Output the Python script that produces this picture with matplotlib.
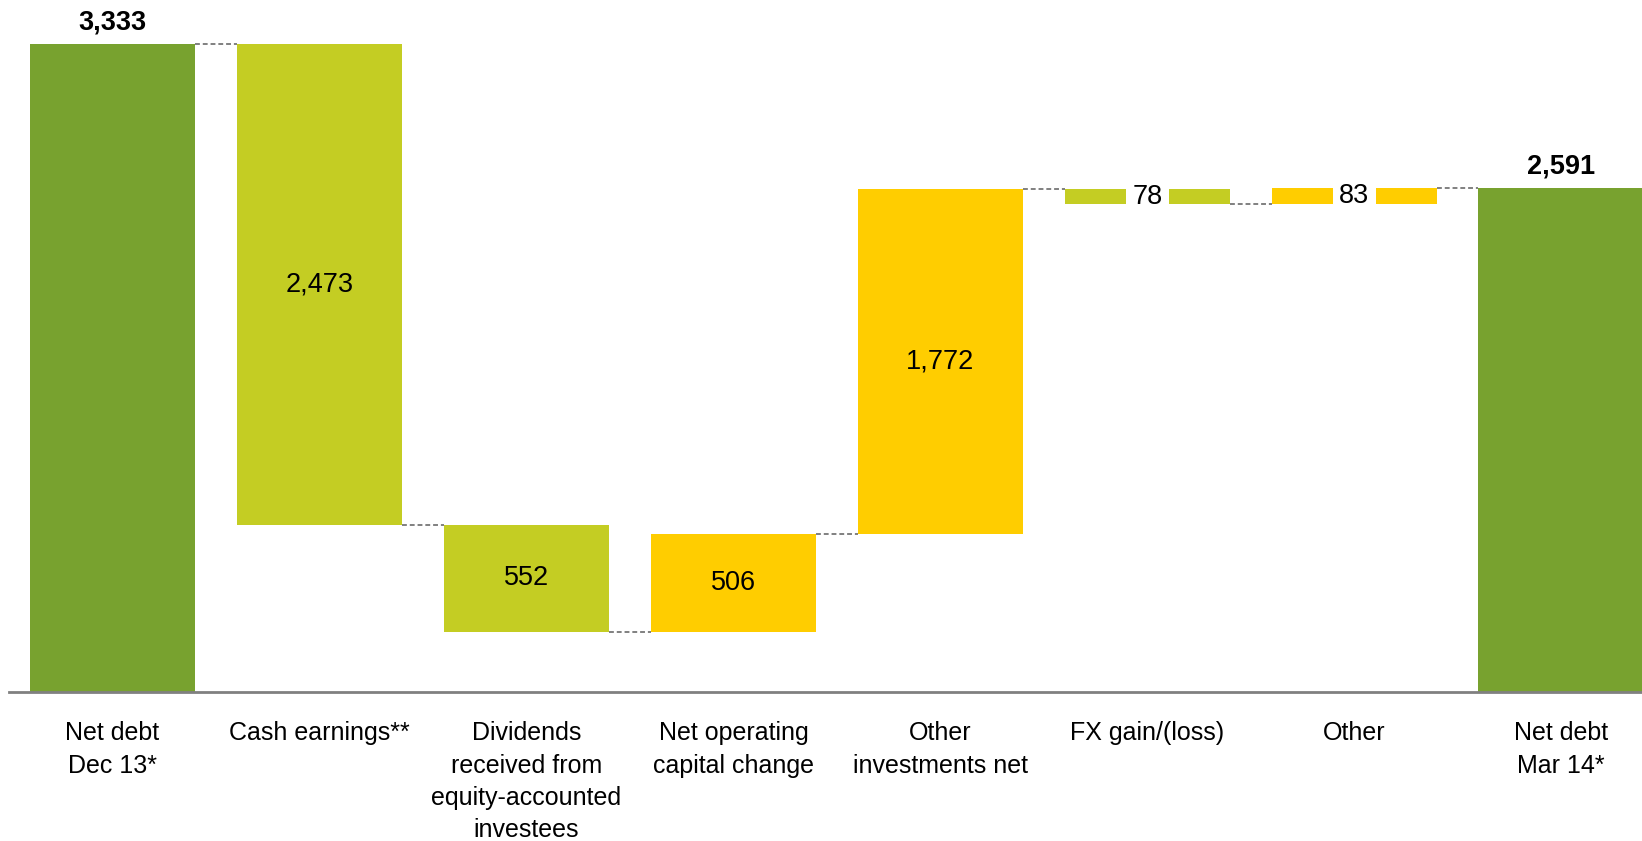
import matplotlib
matplotlib.use("Agg")
import matplotlib.pyplot as plt
import numpy as np

plt.rcParams['font.family'] = ['Liberation Sans', 'DejaVu Sans']

categories = ['Net debt\nDec 13*', 'Cash earnings**',
              'Dividends\nreceived from\nequity-accounted\ninvestees',
              'Net operating\ncapital change', 'Other\ninvestments net',
              'FX gain/(loss)', 'Other', 'Net debt\nMar 14*']
start_total = 3333
changes = [-2473, -552, 506, 1772, -78, 83]
end_total = 2591

col_total = '#78A22F'
col_down = '#C4CD23'
col_up = '#FFCD00'

fig = plt.figure(figsize=(16.42, 8.41), dpi=100)
ax = fig.add_axes([9 / 1642, 149 / 841, 1 - 9 / 1642, 692 / 841])

width = 0.8
x = np.arange(len(categories))

# running totals
levels = [start_total]
for c in changes:
    levels.append(levels[-1] + c)

# start and end totals
ax.bar(x[0], start_total, width, color=col_total)
ax.bar(x[-1], end_total, width, color=col_total)
ax.text(x[0], start_total + 45, f'{start_total:,}', ha='center', va='bottom',
        fontsize=19.5, fontweight='bold')
ax.text(x[-1], end_total + 45, f'{end_total:,}', ha='center', va='bottom',
        fontsize=19.5, fontweight='bold')

# change bars
for i, c in enumerate(changes):
    lo = min(levels[i], levels[i + 1])
    col = col_up if c > 0 else col_down
    ax.bar(x[i + 1], abs(c), width, bottom=lo, color=col)
    mid = lo + abs(c) / 2
    if abs(c) < 200:
        ax.text(x[i + 1], mid, f'{abs(c):,}', ha='center', va='center', fontsize=19.5,
                bbox=dict(facecolor='white', edgecolor='none', pad=4.5))
    else:
        ax.text(x[i + 1], mid, f'{abs(c):,}', ha='center', va='center', fontsize=19.5)

# dashed connectors between bars
levels.append(end_total)
for i in range(len(categories) - 1):
    ax.plot([x[i] + width / 2, x[i + 1] - width / 2], [levels[i], levels[i]],
            color='#808080', lw=1.4, ls=(0, (2.5, 1.5)))

ax.set_xlim(-0.5, 7.39)
ax.set_ylim(0, 3333 * 692 / 648)
ax.set_xticks(x)
ax.set_xticklabels(categories, fontsize=18, linespacing=1.44)
ax.tick_params(axis='x', length=0, pad=21)
ax.set_yticks([])
for s in ['top', 'right', 'left']:
    ax.spines[s].set_visible(False)
ax.spines['bottom'].set_color('#808080')
ax.spines['bottom'].set_linewidth(2)

fig.savefig('out.png', dpi=100)
